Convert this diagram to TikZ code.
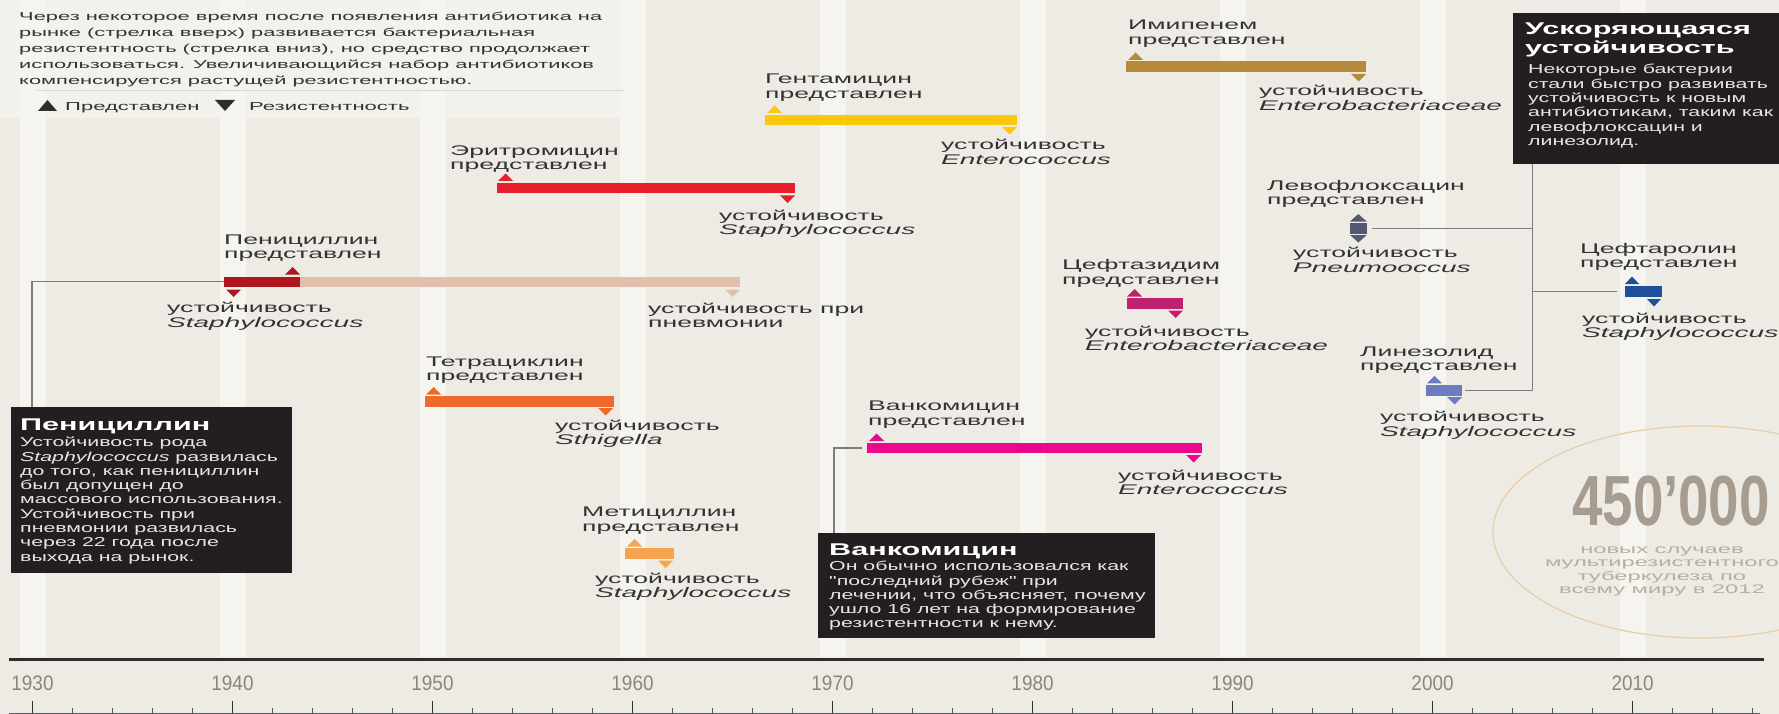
\documentclass[tikz,border=0pt]{standalone}
\usepackage{fontspec}
\setmainfont{Liberation Sans}[FakeStretch=1.9, ItalicFeatures={FakeStretch=2.0}, BoldFeatures={FakeStretch=1.8}]
\newfontfamily\bodyfont{Liberation Sans}[FakeStretch=1.64]
\newfontfamily\yearfont{Liberation Sans}[FakeStretch=0.9]
\newfontfamily\bigfont{Liberation Sans}[FakeStretch=0.77]
\definecolor{bg}{HTML}{EDEBE4}
\definecolor{stripe}{HTML}{F5F4EE}
\definecolor{toplight}{HTML}{F2F1EB}
\definecolor{txt}{HTML}{333333}
\definecolor{boxc}{HTML}{231F20}
\definecolor{boxtxt}{HTML}{E6E6E6}
\definecolor{conn}{HTML}{7D7D7D}
\definecolor{sep}{HTML}{D9D7D0}
\definecolor{pen}{HTML}{B0161E}
\definecolor{penpale}{HTML}{E2BEAD}
\definecolor{ery}{HTML}{E61E2A}
\definecolor{gen}{HTML}{FDC70C}
\definecolor{imi}{HTML}{B78A3B}
\definecolor{tet}{HTML}{EE6A2C}
\definecolor{met}{HTML}{F6A54E}
\definecolor{van}{HTML}{EA088C}
\definecolor{cfz}{HTML}{C0206D}
\definecolor{levo}{HTML}{525A73}
\definecolor{lin}{HTML}{6D7CC2}
\definecolor{cft}{HTML}{1E4E9C}
\definecolor{yearc}{HTML}{8E847A}
\definecolor{ellc}{HTML}{EACDA6}
\definecolor{bignum}{HTML}{A69C8F}
\definecolor{smalltan}{HTML}{B8AE9F}
\definecolor{axisc}{HTML}{2E2E2E}
\newcommand\upT[4]{\fill[#1] (#2,#3) -- ++(#4,0) -- ++(-#4/2,-7.5) -- cycle;}
\newcommand\dnT[4]{\fill[#1] (#2,#3) -- ++(#4,0) -- ++(-#4/2,7.5) -- cycle;}
\begin{document}
\begin{tikzpicture}[x=1pt,y=-1pt,
  lbl/.style={font=\fontsize{14}{14.6}\selectfont, text=txt, inner sep=0pt, align=left, anchor=base west},
  bar/.style={rectangle, inner sep=0pt, outer sep=0pt, anchor=north west, minimum height=10.5pt},
  blackbox/.style={rectangle, fill=boxc, inner sep=0pt, outer sep=0pt, anchor=north west},
  boxtitle/.style={font=\bfseries\fontsize{17}{18.3}\selectfont, text=white, inner sep=0pt, align=left, anchor=base west},
  boxbody/.style={font=\bodyfont\fontsize{13}{14.3}\selectfont, text=boxtxt, inner sep=0pt, align=left, anchor=base west},
  conn/.style={draw=conn, line width=1.1pt},
  year/.style={font=\yearfont\fontsize{21}{21}\selectfont, text=yearc, inner sep=0pt}]
\useasboundingbox (0,0) rectangle (1779,714);
\begin{scope}
\clip (0,0) rectangle (1779,714);
% background
\fill[bg] (0,0) rectangle (1779,714);
\fill[toplight] (0,0) rectangle (640,118);
\foreach \yr in {1930,1940,...,2010}
  \fill[stripe] ({32.5+20*(\yr-1930)-13},0) rectangle ++(26,657);
% intro (anchor = baseline of last line)
\node[lbl, font=\fontsize{11.5}{15.8}\selectfont] (intro) at (19,84.2) {Через некоторое время после появления антибиотика на\\рынке (стрелка вверх) развивается бактериальная\\резистентность (стрелка вниз), но средство продолжает\\использоваться. Увеличивающийся набор антибиотиков\\компенсируется растущей резистентностью.};
\draw[sep, line width=0.8pt] (37,90.5) -- (624,90.5);
\fill[axisc] (38,111) -- (57,111) -- (47.5,100) -- cycle;
\node[lbl, font=\fontsize{11.6}{14}\selectfont] (legup) at (65,111) {Представлен};
\fill[axisc] (215,100) -- (235,100) -- (225,111) -- cycle;
\node[lbl, font=\fontsize{11.6}{14}\selectfont] (legdn) at (249,111) {Резистентность};
% axis
\draw[axisc, line width=3pt] (9,659) -- (1764,659);
\foreach \yr in {1930,1940,...,2010}
  \node[year] (y\yr) at ({32.5+20*(\yr-1930)},683) {\yr};
\draw[axisc!80, line width=0.9pt] (9,713) -- (1760,713);
\foreach \i in {0,...,43}{
  \pgfmathtruncatemacro\ismaj{mod(\i,5)==0 ? 1 : 0}
  \ifnum\ismaj=1
    \draw[axisc, line width=1.2pt] ({32.5+40*\i},701) -- ++(0,12);
  \else
    \draw[axisc!80, line width=1pt] ({32.5+40*\i},708) -- ++(0,5);
  \fi}
% Penicillin
\node[bar, fill=pen, minimum width=76pt] (penbar) at (224,276.5) {};
\node[bar, fill=penpale, minimum width=440pt] (penpalebar) at (300,276.5) {};
\upT{pen}{285}{274.5}{15}
\dnT{pen}{226}{289.5}{15}
\dnT{penpale}{725}{289.5}{15}
\node[lbl] (penl) at (224,258.6) {Пенициллин\\представлен};
\node[lbl] (penr) at (167,327.3) {устойчивость\\\textit{Staphylococcus}};
\node[lbl] (penr2) at (648,327.9) {устойчивость при\\пневмонии};
% Erythromycin
\node[bar, fill=ery, minimum width=298pt] (erybar) at (497,182.7) {};
\upT{ery}{498}{181}{15}
\dnT{ery}{780}{195.5}{15}
\node[lbl] (eryl) at (450,169.6) {Эритромицин\\представлен};
\node[lbl] (eryr) at (719,234.6) {устойчивость\\\textit{Staphylococcus}};
% Gentamicin
\node[bar, fill=gen, minimum width=252pt] (genbar) at (765,115) {};
\upT{gen}{767}{113}{15}
\dnT{gen}{1002}{127}{15}
\node[lbl] (genl) at (765,98.1) {Гентамицин\\представлен};
\node[lbl] (genr) at (941,164.6) {устойчивость\\\textit{Enterococcus}};
% Imipenem
\node[bar, fill=imi, minimum width=240pt] (imibar) at (1126,61.5) {};
\upT{imi}{1128}{60}{15}
\dnT{imi}{1351}{74}{15}
\node[lbl] (imil) at (1128,44.6) {Имипенем\\представлен};
\node[lbl] (imir) at (1259,110.1) {устойчивость\\\textit{Enterobacteriaceae}};
% Tetracycline
\node[bar, fill=tet, minimum width=189pt] (tetbar) at (425,396) {};
\upT{tet}{426}{394.5}{15}
\dnT{tet}{598}{408}{15}
\node[lbl] (tetl) at (426,380.6) {Тетрациклин\\представлен};
\node[lbl] (tetr) at (555,444.6) {устойчивость\\\textit{Sthigella}};
% Methicillin
\node[bar, fill=met, minimum width=48.5pt] (metbar) at (625,548.3) {};
\upT{met}{627}{546.5}{15}
\dnT{met}{658}{560.5}{15}
\node[lbl] (metl) at (582,531.3) {Метициллин\\представлен};
\node[lbl] (metr) at (595,597.9) {устойчивость\\\textit{Staphylococcus}};
% Vancomycin
\node[bar, fill=van, minimum width=334.5pt] (vanbar) at (867,442.7) {};
\upT{van}{869}{441}{15}
\dnT{van}{1186}{455}{15}
\node[lbl] (vanl) at (868,425.1) {Ванкомицин\\представлен};
\node[lbl] (vanr) at (1118,494.6) {устойчивость\\\textit{Enterococcus}};
% Ceftazidime
\node[bar, fill=cfz, minimum width=56.6pt] (cfzbar) at (1126.7,298.3) {};
\upT{cfz}{1127}{296.5}{15}
\dnT{cfz}{1168}{310.5}{15}
\node[lbl] (cfzl) at (1062,284.1) {Цефтазидим\\представлен};
\node[lbl] (cfzr) at (1085,350.6) {устойчивость\\\textit{Enterobacteriaceae}};
% Levofloxacin
\node[bar, fill=levo, minimum width=16.7pt] (levobar) at (1350,223.3) {};
\upT{levo}{1350}{221.5}{16.7}
\dnT{levo}{1350}{235}{16.7}
\node[lbl] (levol) at (1267,204.6) {Левофлоксацин\\представлен};
\node[lbl] (levor) at (1293,272.3) {устойчивость\\\textit{Pneumooccus}};
% Linezolid
\node[bar, fill=lin, minimum width=36.3pt] (linbar) at (1426,385) {};
\upT{lin}{1427}{383.3}{15}
\dnT{lin}{1447}{397}{15}
\node[lbl] (linl) at (1360,370.6) {Линезолид\\представлен};
\node[lbl] (linr) at (1380,436.3) {устойчивость\\\textit{Staphylococcus}};
% Ceftaroline
\node[bar, fill=cft, minimum width=36.7pt] (cftbar) at (1625,286) {};
\upT{cft}{1625}{284}{14}
\dnT{cft}{1647}{299}{14}
\node[lbl] (cftl) at (1580,267.9) {Цефтаролин\\представлен};
\node[lbl] (cftr) at (1582,337.9) {устойчивость\\\textit{Staphylococcus}};
% boxes
\node[blackbox, minimum width=281pt, minimum height=166pt] (penbox) at (11,407) {};
\node[boxtitle] (penboxt) at (20,430) {Пенициллин};
\node[boxbody] (penboxb) at (20,561.1) {Устойчивость рода\\\textit{Staphylococcus} развилась\\до того, как пенициллин\\был допущен до\\массового использования.\\Устойчивость при\\пневмонии развилась\\через 22 года после\\выхода на рынок.};
\node[blackbox, minimum width=337pt, minimum height=104.5pt] (vanbox) at (818,533.3) {};
\node[boxtitle] (vanboxt) at (829,555) {Ванкомицин};
\node[boxbody] (vanboxb) at (829,627.9) {Он обычно использовался как\\"последний рубеж" при\\лечении, что объясняет, почему\\ушло 16 лет на формирование\\резистентности к нему.};
\node[blackbox, minimum width=280pt, minimum height=151.3pt] (accbox) at (1513,12.7) {};
\node[boxtitle] (accboxt) at (1525,53.3) {Ускоряющаяся\\устойчивость};
\node[boxbody] (accboxb) at (1528,145.5) {Некоторые бактерии\\стали быстро развивать\\устойчивость к новым\\антибиотикам, таким как\\левофлоксацин и\\линезолид.};
% connectors
\draw[conn] ([xshift=21pt]penbox.north west) |- (penbar.west);
\draw[conn] ([xshift=16pt]vanbox.north west) |- ([xshift=-5pt]vanbar.west);
\coordinate (accx) at ([xshift=19.7pt]accbox.south west);
\draw[conn] (accx) |- ([xshift=3pt]linbar.east);
\draw[conn] (accx |- levobar.east) -- ([xshift=5pt]levobar.east);
\draw[conn] (accx |- cftbar.west) -- ([xshift=-8pt]cftbar.west);
% stats
\draw[ellc, line width=1.2pt] (1700,532) ellipse [x radius=207, y radius=106];
\node[font=\bigfont\bfseries\fontsize{71}{71}\selectfont, text=bignum, inner sep=0pt] (bignumber) at (1671,501) {450’000};
\node[font=\fontsize{12.5}{13.6}\selectfont, text=smalltan, inner sep=0pt, align=center, anchor=base] (stats) at (1662,593.8) {новых случаев\\мультирезистентного\\туберкулеза по\\всему миру в 2012};
\end{scope}
\end{tikzpicture}
\end{document}
